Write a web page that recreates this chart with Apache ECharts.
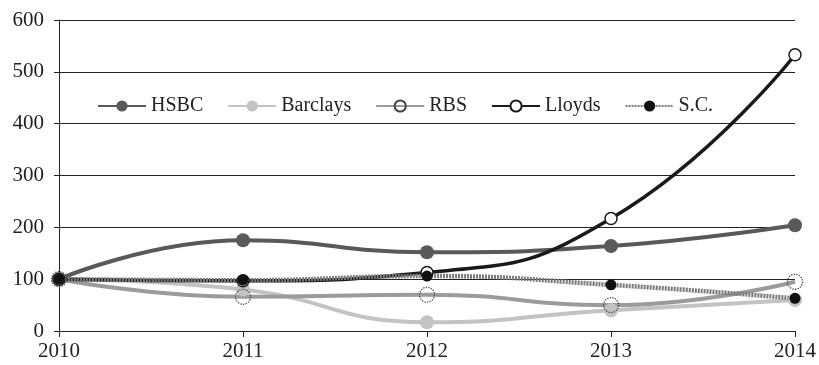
<!DOCTYPE html>
<html>
<head>
<meta charset="utf-8">
<title>Banks index</title>
<script src="https://cdn.jsdelivr.net/npm/echarts@6/dist/echarts.min.js"></script>
<style>
  html, body { margin: 0; padding: 0; background: #fff; }
  #chart { width: 819px; height: 365px; }
</style>
</head>
<body>
<div id="chart"></div>
<script>
var years = ['2010', '2011', '2012', '2013', '2014'];
var hsbc = [100, 175, 152, 164, 204];
var barclays = [100, 80, 17, 40, 60];
var rbs = [100, 66, 70, 50, 95];
var lloyds = [100, 97, 113, 217, 533];
var sc = [100, 98, 106, 89, 63];

var serif = '"Liberation Serif", "DejaVu Serif", serif';
var chart = echarts.init(document.getElementById('chart'));

chart.setOption({
  animation: false,
  grid: { left: 59, right: 21, top: 20, bottom: 34 },
  legend: {
    top: 91,
    left: 92,
    itemWidth: 48,
    itemHeight: 14,
    itemGap: 24,
    textStyle: { fontFamily: serif, fontSize: 20, color: '#222' },
    data: ['HSBC', 'Barclays', 'RBS', 'Lloyds', 'S.C.']
  },
  xAxis: {
    type: 'category',
    data: years,
    boundaryGap: false,
    axisLine: { lineStyle: { color: '#222', width: 1 } },
    axisTick: { show: true, alignWithLabel: true, length: 6, lineStyle: { color: '#222' } },
    axisLabel: { fontFamily: serif, fontSize: 21, color: '#222', margin: 10 },
    splitLine: { show: false }
  },
  yAxis: {
    type: 'value',
    min: 0,
    max: 600,
    interval: 100,
    axisLine: { show: true, lineStyle: { color: '#222', width: 1 } },
    axisTick: { show: true, length: 5, lineStyle: { color: '#222' } },
    axisLabel: { fontFamily: serif, fontSize: 21, color: '#222', margin: 15 },
    splitLine: { lineStyle: { color: '#222', width: 1 } }
  },
  series: [
    {
      name: 'HSBC', type: 'line', smooth: true, data: hsbc,
      symbol: 'circle', symbolSize: 14,
      lineStyle: { color: '#595959', width: 4 },
      itemStyle: { color: '#595959' }
    },
    {
      name: 'Barclays', type: 'line', smooth: true, data: barclays,
      symbol: 'circle', symbolSize: 14,
      lineStyle: { color: '#c3c3c3', width: 4 },
      itemStyle: { color: '#c3c3c3' }
    },
    {
      name: 'RBS', type: 'line', smooth: true, data: rbs,
      symbol: 'circle', symbolSize: 15,
      lineStyle: { color: '#9b9b9b', width: 4 },
      itemStyle: { color: 'rgba(255,255,255,0)', borderColor: '#444', borderWidth: 1.3, borderType: 'dotted' }
    },
    {
      name: 'Lloyds', type: 'line', smooth: true, data: lloyds,
      symbol: 'circle', symbolSize: 12,
      lineStyle: { color: '#1a1a1a', width: 3.5 },
      itemStyle: { color: '#fff', borderColor: '#1a1a1a', borderWidth: 1.5 }
    },
    {
      name: 'S.C.', type: 'line', smooth: true, data: sc,
      symbol: 'circle', symbolSize: 11,
      lineStyle: { color: '#7a7a7a', width: 4.5, type: [2, 1] },
      itemStyle: { color: '#111' }
    }
  ]
});
</script>
</body>
</html>
